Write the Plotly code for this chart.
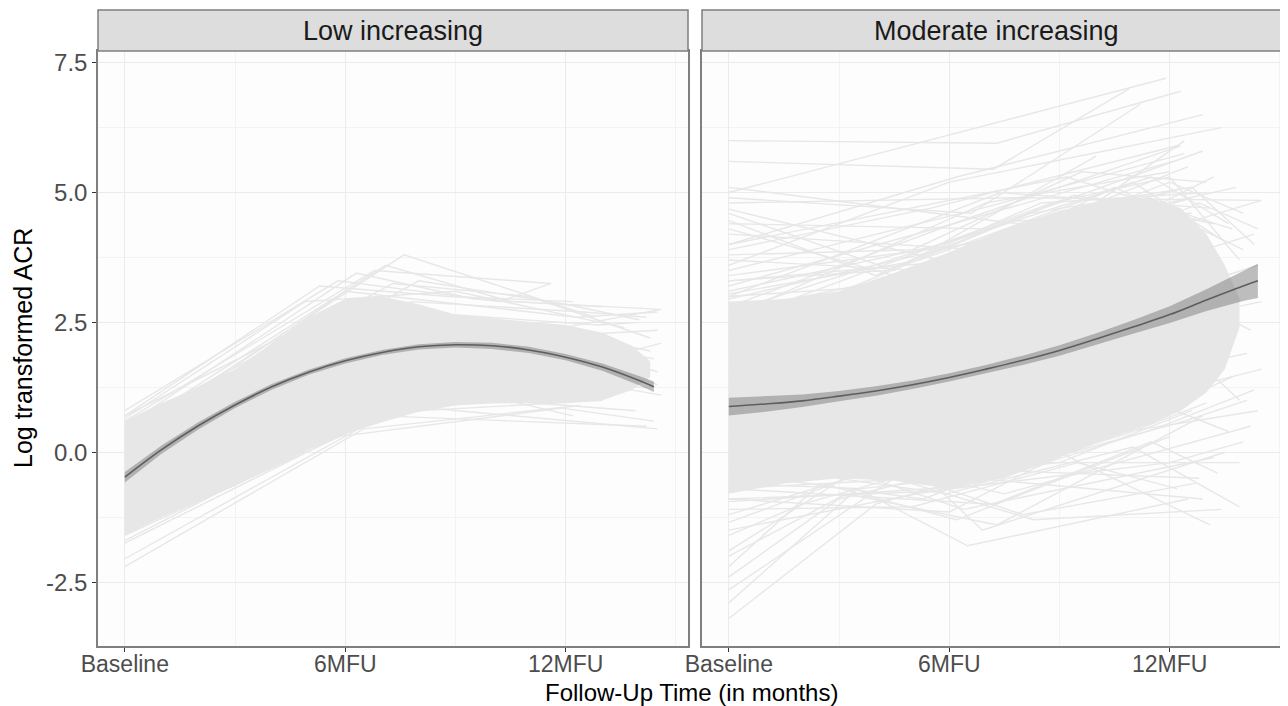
import plotly.graph_objects as go

# --- dados ---
# trajetórias individuais (meses desde o baseline, ACR log-transformado)
low_times = [
    [0, 7.6, 12.8], [0, 6.8, 11.6], [0, 5.8, 10.2, 11.6], [0, 6.3, 9.5, 13.0],
    [0, 5.3, 8.8, 12.2], [0, 7.1, 10.5, 14.6], [0, 6.0, 12.3, 14.5], [0, 8.0, 12.0, 14.0],
    [0, 4.9, 9.0, 13.6], [0, 7.3, 11.0, 14.3], [0, 6.5, 12.4], [0, 7.0, 14.2],
    [0, 5.8, 11.9, 14.4], [0, 6.2, 9.2, 12.2], [0, 8.3, 13.9], [0, 7.5, 14.5],
    [0, 6.8, 13.0], [0, 6.4, 11.2, 14.6], [0, 5.6, 10.8, 14.5], [0, 6.9, 12.6, 14.4],
    [0, 7.2, 12.1, 14.3], [0, 6.1, 11.4, 14.6], [0, 5.9, 12.9, 14.0], [0, 6.6, 10.1, 13.4],
    [0, 7.8, 12.5, 14.2], [0, 6.7, 12.2, 14.5], [0, 7.4, 13.0, 14.6], [0, 5.5, 12.6, 14.3],
    [0, 6.0, 11.7, 14.2], [0, 8.1, 13.4, 14.5],
]
low_acr = [
    [0.3, 3.8, 2.6], [0.6, 3.5, 3.25], [0.8, 3.3, 2.9, 3.25], [0.5, 3.45, 2.95, 2.8],
    [0.7, 3.2, 3.0, 2.9], [0.4, 3.6, 2.9, 2.75], [0.2, 3.1, 2.6, 2.7], [0.1, 3.3, 2.85, 2.55],
    [0.65, 2.9, 3.1, 2.4], [0.5, 3.25, 3.0, 2.2], [-2.2, 0.45, 0.9], [-2.05, 0.7, 0.5],
    [-1.75, 0.3, 0.85, 0.6], [-1.7, 0.55, 1.2, 0.7], [-1.6, 1.1, 0.8], [-1.55, 0.9, 0.45],
    [-1.45, 0.75, 1.0], [0.1, 2.4, 2.3, 2.75], [-0.3, 2.1, 2.2, 2.35], [-0.6, 1.9, 2.0, 1.8],
    [-0.9, 1.6, 1.6, 1.45], [-1.2, 1.3, 1.5, 1.1], [0.7, 2.8, 2.45, 2.5], [-0.1, 2.6, 2.5, 2.05],
    [0.3, 2.9, 2.7, 2.6], [-0.4, 2.2, 2.0, 1.55], [-0.8, 1.7, 1.8, 2.1], [0.0, 2.5, 2.2, 1.95],
    [-1.0, 1.5, 1.3, 1.25], [-0.2, 2.3, 1.6, 1.3],
]

mod_times = [
    [0, 7.2, 10.9], [0, 7.3, 12.3], [0, 11.9], [0, 6.2, 12.9], [0, 6.0, 13.4],
    [0, 6.6, 11.2], [0, 7.0, 12.9], [0, 8.0, 14.5], [0, 5.5, 12.2], [0, 6.8, 12.5],
    [0, 7.5, 13.8], [0, 6.4, 12.0, 14.0], [0, 4.5, 10.0], [0, 5.0, 12.6], [0, 7.8, 13.2],
    [0, 6.1, 12.1], [0, 9.0, 12.4], [0, 6.3, 12.7], [0, 4.0, 8.5, 13.0],
    [0, 6.5, 12.3], [0, 7.0, 12.0], [0, 5.8, 11.5, 13.6], [0, 8.2, 12.6, 14.3],
    [0, 6.9, 12.4], [0, 5.0, 9.6, 13.0], [0, 7.4, 13.1], [0, 6.2, 10.5, 14.0],
    [0, 9.2, 13.7], [0, 6.0, 12.8, 14.4],
    [0, 6.1, 12.2], [0, 5.2, 11.0, 13.4], [0, 7.7, 12.6], [0, 4.3, 9.4, 13.2],
    [0, 8.8, 12.0, 13.9],
    [0, 4.0, 9.0, 13.1], [0, 3.5, 6.5, 12.5], [0, 4.5, 8.3, 13.4], [0, 3.0, 7.0, 13.9],
    [0, 2.5, 6.2, 12.0], [0, 3.8, 7.5, 14.2], [0, 2.0, 5.5, 12.8], [0, 4.8, 6.9, 13.5],
    [0, 5.0, 9.5, 12.2], [0, 6.0, 10.0, 14.4], [0, 7.2, 11.5, 13.3], [0, 5.5, 12.0, 14.0],
    [0, 5.3, 11.8, 13.6], [0, 6.7, 12.9], [0, 7.8, 12.4, 14.1], [0, 4.2, 8.0, 12.7],
    [0, 6.4, 13.2], [0, 5.9, 11.0, 13.9], [0, 3.2, 7.3, 12.9], [0, 8.6, 13.0],
    [0, 7.0, 12.3, 14.5],
    [0, 5.6, 10.8, 13.0], [0, 4.0, 9.0, 12.6], [0, 6.6, 11.6, 14.3], [0, 3.6, 8.2, 13.7],
    [0, 6.5, 12.2, 14.4], [0, 5.8, 11.8, 14.5], [0, 7.0, 12.5, 14.3], [0, 6.0, 12.0, 14.1],
    [0, 6.8, 12.7, 14.2], [0, 6.3, 11.9, 14.5], [0, 5.2, 12.1, 13.9],
]
mod_acr = [
    [5.6, 5.45, 7.0], [6.0, 5.95, 6.95], [5.0, 7.2], [4.0, 5.3, 6.5], [3.6, 5.2, 6.25],
    [4.9, 4.6, 6.7], [4.4, 4.3, 5.8], [4.8, 4.9, 4.85], [3.9, 4.7, 5.9], [4.2, 3.9, 5.5],
    [3.4, 4.1, 5.1], [3.3, 3.7, 5.2, 4.6], [4.6, 3.5, 5.7], [4.3, 3.3, 4.9], [3.7, 3.4, 5.3],
    [3.2, 4.4, 5.6], [5.1, 4.3, 6.0], [4.68, 3.6, 4.5], [4.46, 3.4, 4.8, 5.0],
    [2.8, 4.5, 5.9], [2.6, 4.8, 5.4], [3.1, 4.0, 5.3, 4.4], [2.2, 4.6, 5.1, 4.0],
    [3.5, 4.7, 5.75], [3.8, 3.9, 5.4, 5.2], [3.0, 5.0, 4.7], [2.7, 3.6, 5.1, 3.9],
    [4.0, 5.3, 4.3], [1.2, 2.6, 4.8, 4.3],
    [2.95, 3.95, 5.05], [3.05, 3.7, 5.2, 4.1], [2.7, 4.45, 4.6], [3.3, 3.5, 4.95, 4.4],
    [2.5, 4.8, 5.3, 3.7],
    [-3.2, -1.0, 0.0, -1.4], [-2.9, -0.7, -1.8, -0.9], [-2.65, -0.5, -1.3, -1.1], [-2.4, -0.9, -0.2, -0.2],
    [-2.2, -0.6, -1.3, 0.3], [-1.9, -0.2, -0.8, 0.5], [-1.6, -1.0, -0.3, -0.5], [-1.35, -0.1, -1.5, 0.0],
    [-1.1, -1.05, -0.2, -0.7], [-0.9, -1.15, 0.3, 0.8], [-0.7, -1.0, 0.2, -0.4], [-1.5, -0.75, -0.2, 0.2],
    [-0.4, -0.9, 0.9, 0.4], [0.2, -0.5, -0.9], [-0.6, -0.3, 0.6, 1.0], [-1.2, -0.3, -1.2, -0.6],
    [0.4, -1.1, -0.1], [-0.2, -0.8, 0.1, -1.05], [-2.0, -0.8, -1.4, 0.7], [-0.5, 0.4, 1.4],
    [0.8, -0.4, 1.2, 1.6],
    [-0.9, -0.75, 0.35, 0.95], [-0.7, -0.55, -0.2, 0.8], [-0.95, -0.65, 0.45, 1.2], [-0.6, -0.7, -0.35, 1.45],
    [1.5, 2.2, 3.1, 3.6], [0.5, 1.2, 2.5, 2.9], [2.5, 2.8, 3.8, 4.2], [0.0, 0.8, 1.6, 1.9],
    [2.0, 2.4, 2.9, 2.35], [3.0, 3.3, 4.3, 4.85], [1.0, 1.6, 2.2, 1.0],
]

# faixa densa onde as centenas de trajetórias se sobrepõem
low_core_t = [0, 1, 2, 3, 4, 5, 6, 7, 8, 9, 10, 11, 12, 13, 13.8, 14.3]
low_core_up = [0.6, 0.95, 1.25, 1.6, 2.1, 2.6, 2.95, 3.0, 2.85, 2.65, 2.58, 2.52, 2.45, 2.3, 2.05, 1.75]
low_core_lo = [-1.6, -1.25, -0.95, -0.65, -0.3, 0.05, 0.35, 0.58, 0.78, 0.9, 0.94, 0.95, 0.95, 1.0, 1.2, 1.45]

mod_core_t = [0, 1.5, 3, 4.5, 6, 7.5, 9, 10.5, 11.5, 12.3, 13, 13.5, 13.9]
mod_core_up = [2.9, 2.95, 3.1, 3.45, 3.85, 4.3, 4.65, 4.9, 4.9, 4.7, 4.2, 3.6, 2.95]
mod_core_lo = [-0.8, -0.6, -0.5, -0.55, -0.7, -0.5, -0.1, 0.3, 0.55, 0.8, 1.15, 1.6, 2.4]

# curva ajustada + IC
fit_t = [0, 1, 2, 3, 4, 5, 6, 7, 8, 9, 10, 11, 12, 13, 14, 14.4]
low_fit = [-0.48, 0.05, 0.51, 0.91, 1.26, 1.54, 1.76, 1.92, 2.03, 2.07, 2.05, 1.97, 1.83, 1.64, 1.38, 1.26]
low_se = [0.1, 0.08, 0.07, 0.06, 0.055, 0.05, 0.05, 0.05, 0.05, 0.055, 0.06, 0.06, 0.06, 0.07, 0.09, 0.1]
mod_fit = [0.88, 0.93, 0.99, 1.08, 1.18, 1.30, 1.44, 1.60, 1.77, 1.96, 2.18, 2.41, 2.65, 2.93, 3.20, 3.30]
mod_se = [0.17, 0.15, 0.12, 0.1, 0.09, 0.08, 0.08, 0.08, 0.09, 0.1, 0.11, 0.13, 0.16, 0.21, 0.29, 0.33]

x_ticks = [0, 6, 12]
x_labels = ["Baseline", "6MFU", "12MFU"]
y_ticks = [-2.5, 0, 2.5, 5, 7.5]
y_labels = ["-2.5", "0.0", "2.5", "5.0", "7.5"]
panels = ["Low increasing", "Moderate increasing"]

# a página tem 8px de margem no body, então a figura é menor e tudo é deslocado 8px
W, H = 1280, 698
OFF = 8
LINE_GREY = "#e7e7e7"
FONT = "Liberation Sans, Arial, sans-serif"


def px_x(x):
    return (x - OFF) / W


def px_y(y):
    return 1 - (y - OFF) / H


def juntar(tempos, valores):
    xs, ys = [], []
    for t, v in zip(tempos, valores):
        xs += list(t) + [None]
        ys += list(v) + [None]
    return xs, ys


fig = go.Figure()

for xa, ya, core_t, up, lo, tempos, valores, fit, se in [
    ("x", "y", low_core_t, low_core_up, low_core_lo, low_times, low_acr, low_fit, low_se),
    ("x2", "y2", mod_core_t, mod_core_up, mod_core_lo, mod_times, mod_acr, mod_fit, mod_se),
]:
    fig.add_trace(go.Scatter(
        x=core_t + core_t[::-1], y=up + lo[::-1], xaxis=xa, yaxis=ya,
        fill="toself", fillcolor=LINE_GREY, line=dict(width=0), mode="lines",
        hoverinfo="skip", showlegend=False))
    xs, ys = juntar(tempos, valores)
    fig.add_trace(go.Scatter(
        x=xs, y=ys, xaxis=xa, yaxis=ya, mode="lines",
        line=dict(color=LINE_GREY, width=1.4), showlegend=False, connectgaps=False))
    sup = [f + s for f, s in zip(fit, se)]
    inf = [f - s for f, s in zip(fit, se)]
    fig.add_trace(go.Scatter(
        x=fit_t + fit_t[::-1], y=sup + inf[::-1], xaxis=xa, yaxis=ya,
        fill="toself", fillcolor="rgba(110,110,110,0.45)", line=dict(width=0),
        mode="lines", hoverinfo="skip", showlegend=False))
    fig.add_trace(go.Scatter(
        x=fit_t, y=fit, xaxis=xa, yaxis=ya, mode="lines",
        line=dict(color="#5e5e5e", width=1.6, shape="spline"), showlegend=False))

# posições (pixels da referência) -> papel
p1 = (px_x(98), px_x(688))
p2 = (px_x(702), 1.0)
py = (px_y(646), px_y(51))
strip = (px_y(51), px_y(10))

eixo_x = dict(
    tickvals=x_ticks, ticktext=x_labels, showgrid=True, gridcolor="#ebebeb", gridwidth=1,
    minor=dict(tickvals=[3, 9, 15], showgrid=True, gridcolor="#f3f3f3", gridwidth=0.8, ticks=""),
    ticks="outside", ticklen=4, tickcolor="#333333", tickwidth=1.2, ticklabelstandoff=-7,
    tickfont=dict(family=FONT, size=23, color="#4d4d4d"),
    showline=True, linecolor="#7f7f7f", linewidth=1.5, zeroline=False, automargin=False,
)
eixo_y = dict(
    range=[-3.73, 7.725], tickvals=y_ticks, ticktext=y_labels, showgrid=True,
    gridcolor="#ebebeb", gridwidth=1,
    minor=dict(tickvals=[-1.25, 1.25, 3.75, 6.25], showgrid=True, gridcolor="#f3f3f3",
               gridwidth=0.8, ticks=""),
    showline=True, linecolor="#7f7f7f", linewidth=1.5, zeroline=False, automargin=False,
)

fig.update_layout(
    width=W, height=H,
    margin=dict(l=0, r=0, t=0, b=0),
    paper_bgcolor="#ffffff", plot_bgcolor="#fdfdfd",
    showlegend=False,
    xaxis=dict(eixo_x, domain=p1, range=[-0.73, 15.33], anchor="y", mirror=True),
    yaxis=dict(eixo_y, domain=py, anchor="x", mirror=True, ticks="outside", ticklen=4,
               tickcolor="#333333", tickwidth=1.2,
               tickfont=dict(family=FONT, size=24, color="#4d4d4d")),
    xaxis2=dict(eixo_x, domain=p2, range=[-0.73, 15.22], anchor="y2", mirror=True),
    yaxis2=dict(eixo_y, domain=py, anchor="x2", showticklabels=False, ticks=""),
)

# faixas dos painéis (strips)
for (x0, x1), nome, cx in [(p1, panels[0], 393), (p2, panels[1], 996)]:
    fig.add_shape(type="rect", xref="paper", yref="paper", x0=x0, x1=x1 + (0.01 if x1 >= 1 else 0),
                  y0=strip[0], y1=strip[1], fillcolor="#dddddd",
                  line=dict(color="#7f7f7f", width=1.5), layer="above")
    fig.add_annotation(x=px_x(cx), y=px_y(31), xref="paper", yref="paper", text=nome,
                       xanchor="center", yanchor="middle", showarrow=False,
                       font=dict(family=FONT, size=27, color="#1a1a1a"))

fig.add_annotation(x=px_x(691), y=px_y(692), xref="paper", yref="paper",
                   text="Follow-Up Time (in months)", xanchor="center", yanchor="middle",
                   showarrow=False, font=dict(family=FONT, size=24, color="#000000"))
fig.add_annotation(x=px_x(23), y=px_y(348), xref="paper", yref="paper",
                   text="Log transformed ACR", textangle=-90, xanchor="center",
                   yanchor="middle", showarrow=False,
                   font=dict(family=FONT, size=25, color="#000000"))

fig.write_html("out.html")
